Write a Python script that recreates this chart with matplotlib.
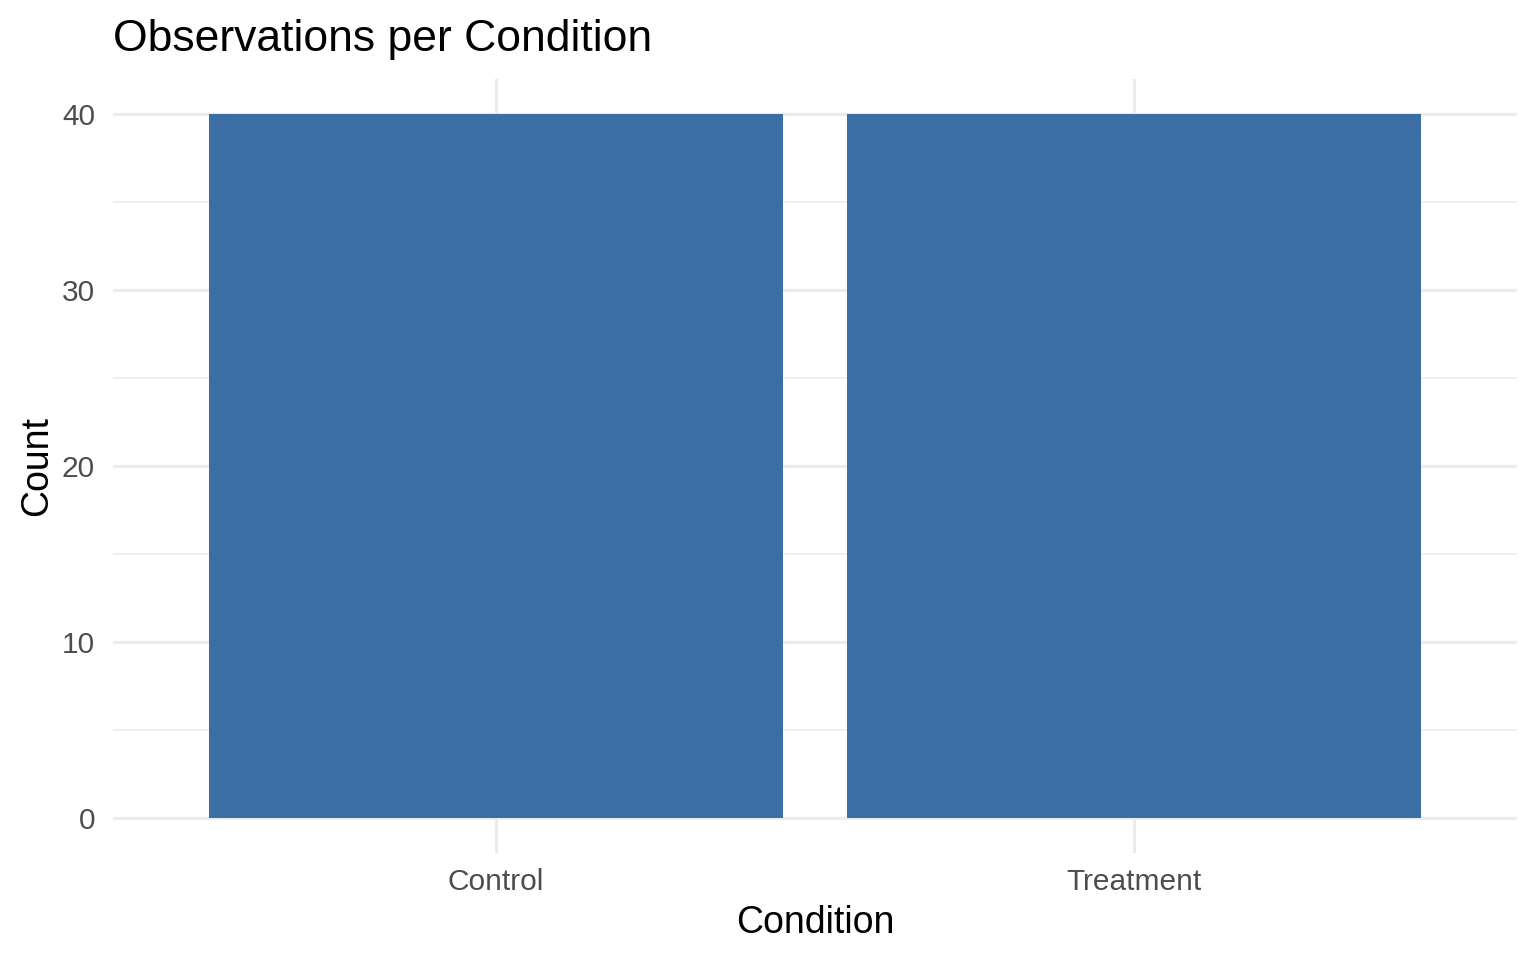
from matplotlib import pyplot as plt
from matplotlib.ticker import MultipleLocator

# Data
conditions = ['Control', 'Treatment']
counts = [40, 40]

plt.rcParams['font.family'] = ['Liberation Sans', 'DejaVu Sans']

fig = plt.figure(figsize=(15.36, 9.6), dpi=100)
# panel placed to match ggplot layout
ax = fig.add_axes([113/1536, 107/960, 1404/1536, 774/960])

x = list(range(1, len(conditions) + 1))
ax.bar(x, counts, width=0.9, color='#3A6EA5', zorder=3)

ax.set_xlim(0.4, len(conditions) + 0.6)
ax.set_ylim(-2, 42)
ax.set_xticks(x)
ax.set_xticklabels(conditions)
ax.yaxis.set_major_locator(MultipleLocator(10))
ax.yaxis.set_minor_locator(MultipleLocator(5))

# theme_minimal-ish grid
ax.grid(which='major', color='#EBEBEB', linewidth=2.2, zorder=0)
ax.grid(which='minor', axis='y', color='#EBEBEB', linewidth=1.1, zorder=0)
for s in ax.spines.values():
    s.set_visible(False)
ax.tick_params(which='both', length=0, labelsize=21.5, labelcolor='#4D4D4D')
ax.tick_params(axis='x', pad=11)
ax.tick_params(axis='y', pad=13)

ax.set_title('Observations per Condition', loc='left', fontsize=32, pad=20)
ax.set_xlabel('Condition', fontsize=27, labelpad=6)
ax.set_ylabel('Count', fontsize=27, labelpad=5)

fig.savefig('out.png', dpi=100)
